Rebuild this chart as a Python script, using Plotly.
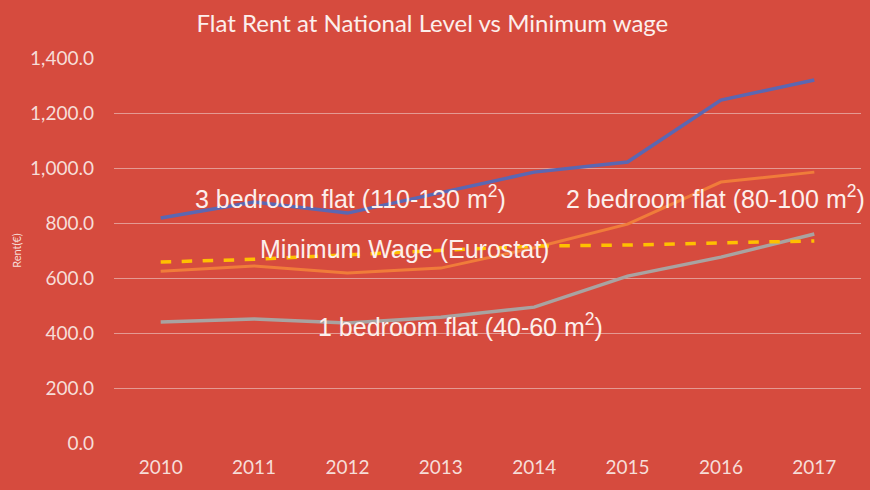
import plotly.graph_objects as go

years = ["2010", "2011", "2012", "2013", "2014", "2015", "2016", "2017"]
three_bed = [818, 876, 836, 909, 985, 1022, 1247, 1320]
two_bed = [625, 644, 618, 636, 710, 796, 949, 985]
one_bed = [440, 451, 436, 457, 494, 607, 676, 760]
min_wage = [658, 668, 684, 700, 716, 720, 727, 735]
y_ticks = [0, 200, 400, 600, 800, 1000, 1200, 1400]

BG = "#D64B3E"
TXT = "#F6DDD8"
GRID = "#E49A92"

fig = go.Figure()
fig.add_trace(go.Scatter(x=years, y=three_bed, mode="lines", line=dict(color="#5B67B2", width=3.5), name="3 bedroom"))
fig.add_trace(go.Scatter(x=years, y=two_bed, mode="lines", line=dict(color="#F07C3A", width=3), name="2 bedroom"))
fig.add_trace(go.Scatter(x=years, y=one_bed, mode="lines", line=dict(color="#A9A3A1", width=3.5), name="1 bedroom"))
fig.add_trace(go.Scatter(x=years, y=min_wage, mode="lines", line=dict(color="#FFC000", width=3.5, dash="dash"), name="Minimum wage"))

ann_font = dict(family="Liberation Sans, Arial", size=25, color="#FCEFEC")
fig.add_annotation(x=0.35, y=895, xref="x", yref="y", text="3 bedroom flat (110-130 m<sup>2</sup>)", showarrow=False, xanchor="left", yanchor="middle", font=ann_font)
fig.add_annotation(x=4.32, y=895, xref="x", yref="y", text="2 bedroom flat (80-100 m<sup>2</sup>)", showarrow=False, xanchor="left", yanchor="middle", font=ann_font)
fig.add_annotation(x=1.04, y=705, xref="x", yref="y", text="Minimum Wage (Eurostat)", showarrow=False, xanchor="left", yanchor="middle", font=ann_font)
fig.add_annotation(x=1.66, y=429, xref="x", yref="y", text="1 bedroom flat (40-60 m<sup>2</sup>)", showarrow=False, xanchor="left", yanchor="middle", font=ann_font)

fig.update_layout(
    width=870, height=490,
    paper_bgcolor=BG, plot_bgcolor=BG,
    margin=dict(l=114, r=9, t=58, b=47),
    showlegend=False,
    title=dict(text="Flat Rent at National Level vs Minimum wage", x=0.497, xanchor="center", y=0.951, yanchor="middle",
               font=dict(family="Lato, Open Sans", size=24, color="#FCEFEC")),
    xaxis=dict(type="category", range=[-0.5, 7.5], showgrid=False, zeroline=False, showline=False, ticks="",
               tickfont=dict(family="Lato, Open Sans", size=19, color=TXT), ticklabelstandoff=11),
    yaxis=dict(range=[0, 1400], tickvals=y_ticks, tickformat=",.1f", showgrid=True, gridcolor=GRID, gridwidth=1,
               zeroline=False, showline=False, ticks="",
               tickfont=dict(family="Lato, Open Sans", size=19, color=TXT), ticklabelstandoff=19,
               title=dict(text="Rent(€)", font=dict(family="Lato, Open Sans", size=11, color=TXT), standoff=6)),
)

fig.write_html("out.html")
